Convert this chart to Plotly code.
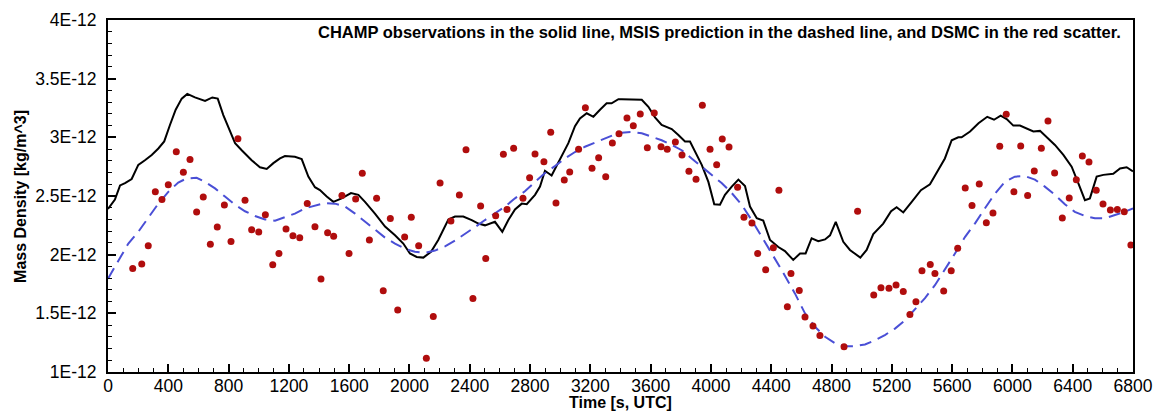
import numpy as np
import plotly.graph_objects as go

# ---------------- data (densities in units of 1E-12 kg/m^3) ----------------
champ_t = [0, 46, 80, 113, 157, 201, 245, 290, 334, 373,
           411, 449, 489, 526, 577, 644, 692, 728, 765, 809,
           843, 887, 953, 1008, 1053, 1097, 1141, 1174, 1240, 1285,
           1329, 1373, 1406, 1451, 1495, 1550, 1612, 1661, 1705, 1771,
           1838, 1904, 1959, 2003, 2048, 2092, 2143, 2191, 2236, 2258,
           2302, 2357, 2413, 2457, 2501, 2567, 2616, 2656, 2700, 2745,
           2778, 2833, 2866, 2899, 2943, 2999, 3054, 3098, 3131, 3176,
           3220, 3264, 3308, 3341, 3386, 3408, 3474, 3541, 3585, 3629,
           3673, 3740, 3784, 3828, 3861, 3894, 3939, 3983, 4022, 4060,
           4093, 4138, 4182, 4226, 4259, 4304, 4347, 4392, 4447, 4491,
           4546, 4591, 4628, 4668, 4712, 4757, 4790, 4828, 4878, 4922,
           4991, 5033, 5077, 5143, 5195, 5232, 5276, 5332, 5393, 5453,
           5508, 5552, 5597, 5641, 5663, 5719, 5775, 5833, 5878, 5922,
           5962, 6006, 6050, 6095, 6139, 6183, 6227, 6282, 6338, 6393,
           6437, 6481, 6514, 6559, 6603, 6669, 6714, 6758, 6800]
champ_rho = [2.39, 2.47, 2.59, 2.61, 2.645, 2.765, 2.805, 2.85, 2.905, 2.965,
             3.105, 3.235, 3.33, 3.37, 3.34, 3.31, 3.34, 3.33, 3.19, 3.06,
             2.95, 2.89, 2.805, 2.745, 2.73, 2.78, 2.82, 2.84, 2.835, 2.815,
             2.665, 2.575, 2.55, 2.495, 2.45, 2.48, 2.525, 2.51, 2.45, 2.35,
             2.24, 2.165, 2.095, 2.01, 1.98, 1.975, 2.025, 2.125, 2.24, 2.30,
             2.325, 2.325, 2.295, 2.265, 2.25, 2.28, 2.195, 2.295, 2.385, 2.435,
             2.43, 2.51, 2.58, 2.715, 2.675, 2.82, 2.95, 3.095, 3.16, 3.205,
             3.175, 3.235, 3.29, 3.29, 3.325, 3.325, 3.32, 3.32, 3.26, 3.17,
             3.105, 3.07, 3.02, 2.965, 2.965, 2.875, 2.765, 2.62, 2.43, 2.425,
             2.51, 2.58, 2.64, 2.585, 2.41, 2.31, 2.29, 2.125, 2.065, 2.03,
             1.955, 2.01, 2.01, 2.14, 2.115, 2.13, 2.165, 2.28, 2.11, 2.04,
             1.975, 2.04, 2.175, 2.265, 2.37, 2.405, 2.36, 2.45, 2.55, 2.60,
             2.72, 2.82, 2.975, 3.0, 3.0, 3.05, 3.12, 3.175, 3.15, 3.185,
             3.155, 3.10, 3.10, 3.075, 3.05, 3.055, 3.005, 2.935, 2.85, 2.75,
             2.61, 2.465, 2.48, 2.665, 2.68, 2.69, 2.735, 2.745, 2.71]

msis_t = [0, 68, 135, 201, 267, 334, 400, 466, 522, 588,
          644, 710, 776, 843, 909, 975, 1042, 1108, 1174, 1240,
          1307, 1373, 1440, 1506, 1572, 1639, 1705, 1771, 1838, 1904,
          1970, 2036, 2103, 2169, 2236, 2302, 2368, 2435, 2501, 2567,
          2634, 2700, 2766, 2833, 2899, 2965, 3032, 3098, 3164, 3231,
          3297, 3363, 3408, 3474, 3541, 3607, 3673, 3740, 3806, 3872,
          3939, 4005, 4071, 4138, 4204, 4270, 4337, 4403, 4469, 4524,
          4557, 4624, 4690, 4757, 4823, 4890, 4956, 5022, 5088, 5154,
          5221, 5287, 5353, 5420, 5486, 5552, 5619, 5685, 5751, 5818,
          5884, 5950, 6016, 6083, 6149, 6215, 6282, 6348, 6414, 6481,
          6547, 6613, 6680, 6746, 6800]
msis_rho = [1.795, 1.94, 2.095, 2.195, 2.31, 2.435, 2.535, 2.615, 2.65, 2.655,
            2.62, 2.565, 2.495, 2.425, 2.37, 2.33, 2.30, 2.29, 2.32, 2.35,
            2.395, 2.42, 2.44, 2.435, 2.41, 2.35, 2.28, 2.21, 2.145, 2.095,
            2.05, 2.025, 2.015, 2.035, 2.07, 2.12, 2.175, 2.235, 2.295, 2.35,
            2.41, 2.48, 2.54, 2.62, 2.695, 2.755, 2.82, 2.875, 2.92, 2.955,
            2.99, 3.025, 3.04, 3.045, 3.035, 3.005, 2.975, 2.935, 2.89, 2.82,
            2.75, 2.68, 2.61, 2.525, 2.425, 2.295, 2.155, 2.01, 1.87, 1.745,
            1.67, 1.50, 1.385, 1.30, 1.245, 1.22, 1.22, 1.235, 1.27, 1.315,
            1.37, 1.44, 1.53, 1.63, 1.74, 1.87, 2.01, 2.15, 2.265, 2.395,
            2.52, 2.62, 2.665, 2.67, 2.64, 2.58, 2.51, 2.43, 2.365, 2.33,
            2.31, 2.31, 2.335, 2.365, 2.395]

dsmc_t = [164, 224, 267, 314, 358, 400, 453, 500, 544, 588,
          632, 679, 725, 772, 816, 862, 909, 953, 1000, 1044,
          1093, 1134, 1181, 1227, 1272, 1322, 1373, 1413, 1457, 1497,
          1552, 1599, 1643, 1687, 1734, 1782, 1826, 1873, 1922, 1968,
          2012, 2061, 2112, 2158, 2203, 2275, 2331, 2375, 2421, 2472,
          2506, 2572, 2623, 2647, 2691, 2753, 2797, 2833, 2892, 2937,
          2972, 3027, 3063, 3122, 3167, 3211, 3255, 3302, 3346, 3390,
          3443, 3485, 3531, 3578, 3624, 3669, 3710, 3764, 3808, 3854,
          3901, 3943, 3994, 4038, 4075, 4120, 4177, 4219, 4272, 4310,
          4363, 4414, 4451, 4507, 4531, 4586, 4624, 4677, 4723, 4883,
          4973, 5080, 5128, 5181, 5228, 5276, 5320, 5360, 5400, 5455,
          5486, 5544, 5594, 5637, 5687, 5732, 5780, 5827, 5871, 5916,
          5959, 6010, 6055, 6101, 6145, 6192, 6236, 6280, 6331, 6377,
          6424, 6464, 6508, 6556, 6601, 6650, 6696, 6742, 6786]
dsmc_rho = [1.883, 1.920, 2.076, 2.536, 2.471, 2.596, 2.877, 2.702, 2.812, 2.363,
            2.491, 2.088, 2.235, 2.423, 2.113, 2.988, 2.463, 2.212, 2.193, 2.34,
            1.914, 2.011, 2.218, 2.161, 2.144, 2.437, 2.238, 1.792, 2.187, 2.156,
            2.505, 2.011, 2.474, 2.693, 2.124, 2.48, 1.692, 2.309, 1.528, 2.15,
            2.318, 2.076, 1.118, 1.474, 2.61, 2.286, 2.508, 2.894, 1.627, 2.414,
            1.968, 2.332, 2.855, 2.386, 2.906, 2.48, 2.656, 2.858, 2.792, 3.043,
            2.44, 2.636, 2.704, 2.898, 3.252, 2.736, 2.826, 2.664, 2.951, 3.031,
            3.165, 3.099, 3.199, 2.912, 3.207, 2.92, 2.898, 2.96, 2.849, 2.71,
            2.642, 3.273, 2.898, 2.766, 2.986, 2.917, 2.574, 2.318, 2.269, 2.011,
            1.871, 2.059, 2.548, 1.556, 1.84, 1.695, 1.468, 1.391, 1.312, 1.215,
            2.369, 1.656, 1.718, 1.713, 1.741, 1.687, 1.491, 1.599, 1.863, 1.917,
            1.84, 1.69, 1.863, 2.054, 2.568, 2.42, 2.602, 2.272, 2.355, 2.923,
            3.196, 2.536, 2.926, 2.505, 2.713, 2.906, 3.139, 2.696, 2.312, 2.483,
            2.639, 2.841, 2.789, 2.548, 2.431, 2.38, 2.386, 2.366, 2.082]

x_tick_vals = [0, 400, 800, 1200, 1600, 2000, 2400, 2800, 3200, 3600,
               4000, 4400, 4800, 5200, 5600, 6000, 6400, 6800]
y_tick_vals = [1.0, 1.5, 2.0, 2.5, 3.0, 3.5, 4.0]
y_tick_text = ["1E-12", "1.5E-12", "2E-12", "2.5E-12", "3E-12", "3.5E-12", "4E-12"]

title_text = ("CHAMP observations in the solid line, MSIS prediction in the dashed line, "
              "and DSMC in the red scatter.")
x_title = "Time [s, UTC]"
y_title = "Mass Density [kg/m^3]"

SCALE = 1e-12

# ---------------- figure ----------------
fig = go.Figure()
fig.add_trace(go.Scatter(x=champ_t, y=np.array(champ_rho) * SCALE, mode="lines",
                         line=dict(color="black", width=2), name="CHAMP"))
fig.add_trace(go.Scatter(x=msis_t, y=np.array(msis_rho) * SCALE, mode="lines",
                         line=dict(color="#4a4fd6", width=2, dash="12px,7px"),
                         name="MSIS"))
fig.add_trace(go.Scatter(x=dsmc_t, y=np.array(dsmc_rho) * SCALE, mode="markers",
                         marker=dict(color="#b00d0d", size=7, line=dict(width=0)),
                         name="DSMC"))

FONT = "Liberation Sans, Arial, sans-serif"

fig.update_layout(
    width=1153, height=413,
    margin=dict(l=108, r=20, t=20, b=41, autoexpand=False),
    plot_bgcolor="white", paper_bgcolor="white",
    showlegend=False,
    font=dict(family=FONT, size=17.5, color="black"),
)

fig.update_xaxes(
    range=[0, 6800], automargin=False,
    tickmode="array", tickvals=x_tick_vals, ticktext=[str(v) for v in x_tick_vals],
    ticks="inside", ticklen=8, tickwidth=1.5, tickcolor="black",
    showline=True, linewidth=2, linecolor="black", mirror=True,
    showgrid=False, zeroline=False,
    minor=dict(tickmode="linear", tick0=0, dtick=100, ticks="inside",
               ticklen=4, tickwidth=1, tickcolor="black", showgrid=False),
    tickfont=dict(size=17.5),
    ticklabelstandoff=-3,
    ticklabeloverflow="allow",
)
fig.update_yaxes(
    range=[1e-12, 4e-12], automargin=False,
    tickmode="array", tickvals=[v * SCALE for v in y_tick_vals], ticktext=y_tick_text,
    ticks="inside", ticklen=8, tickwidth=1.5, tickcolor="black",
    showline=True, linewidth=2, linecolor="black", mirror=True,
    showgrid=False, zeroline=False,
    minor=dict(tickmode="linear", tick0=1e-12, dtick=1e-13, ticks="inside",
               ticklen=4, tickwidth=1, tickcolor="black", showgrid=False),
    tickfont=dict(size=17.5),
    ticklabelstandoff=6,
    ticklabeloverflow="allow",
)

# in-plot caption
fig.add_annotation(
    text="<b>" + title_text + "</b>",
    xref="paper", yref="paper", x=0.99, y=0.967,
    xanchor="right", yanchor="middle", showarrow=False,
    font=dict(family=FONT, size=16.5, color="black"),
)
# axis titles
fig.add_annotation(
    text="<b>" + x_title + "</b>",
    xref="paper", yref="paper", x=0.5, y=-0.088,
    xanchor="center", yanchor="middle", showarrow=False,
    font=dict(family=FONT, size=16, color="black"),
)
fig.add_annotation(
    text="<b>" + y_title + "</b>",
    xref="paper", yref="paper", x=-0.0859, y=0.5, textangle=-90,
    xanchor="center", yanchor="middle", showarrow=False,
    font=dict(family=FONT, size=16, color="black"),
)

fig.write_html("out.html")
